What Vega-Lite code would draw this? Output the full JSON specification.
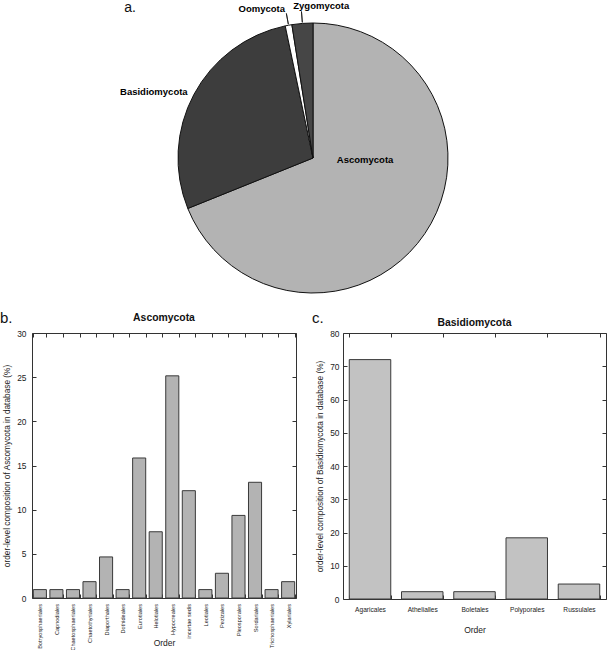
{
  "$schema": "https://vega.github.io/schema/vega-lite/v6.json",
  "padding": 0,
  "autosize": {"type": "pad"},
  "bounds": "flush",
  "spacing": 18,
  "datasets": {
    "phyla": [
      {"phylum": "Ascomycota", "percent": 68.9},
      {"phylum": "Basidiomycota", "percent": 27.8},
      {"phylum": "Oomycota", "percent": 0.8},
      {"phylum": "Zygomycota", "percent": 2.5}
    ],
    "asco": [
      {"order": "Botryosphaeriales", "percent": 0.95},
      {"order": "Capnodiales", "percent": 0.95},
      {"order": "Chaetosphaeriales", "percent": 0.95},
      {"order": "Chaetothyriales", "percent": 1.85},
      {"order": "Diaporthales", "percent": 4.65},
      {"order": "Dothideales", "percent": 0.95},
      {"order": "Eurotiales", "percent": 15.85},
      {"order": "Helotiales", "percent": 7.5},
      {"order": "Hypocreales", "percent": 25.15},
      {"order": "incertae sedis", "percent": 12.15},
      {"order": "Leotiales", "percent": 0.95},
      {"order": "Pezizales", "percent": 2.8},
      {"order": "Pleosporales", "percent": 9.35},
      {"order": "Sordariales", "percent": 13.1},
      {"order": "Trichosphaeriales", "percent": 0.95},
      {"order": "Xylariales", "percent": 1.85}
    ],
    "basidio": [
      {"order": "Agaricales", "percent": 72.0},
      {"order": "Athelialles", "percent": 2.2},
      {"order": "Boletales", "percent": 2.2},
      {"order": "Polyporales", "percent": 18.4},
      {"order": "Russulales", "percent": 4.5}
    ]
  },
  "vconcat": [
    {
      "width": 562,
      "height": 314,
      "data": {"name": "phyla"},
      "layer": [
        {
          "mark": {"type": "arc", "outerRadius": 135, "stroke": "#111111", "strokeWidth": 1},
          "encoding": {
            "theta": {"field": "percent", "type": "quantitative", "stack": true},
            "order": {"field": "phylum", "type": "ordinal", "sort": "ascending"},
            "color": {
              "field": "phylum", "type": "nominal",
              "scale": {"domain": ["Ascomycota", "Basidiomycota", "Oomycota", "Zygomycota"], "range": ["#b3b3b3", "#3d3d3d", "#ffffff", "#464646"]},
              "legend": null
            }
          }
        },
        {
          "mark": {"type": "arc", "radius": 147, "radius2": 136, "padAngle": 1, "stroke": "#111111", "strokeWidth": 0.8, "fillOpacity": 0},
          "encoding": {
            "theta": {"field": "percent", "type": "quantitative", "stack": true},
            "order": {"field": "phylum", "type": "ordinal", "sort": "ascending"},
            "detail": {"field": "phylum", "type": "nominal"},
            "strokeOpacity": {"condition": {"test": "datum.phylum === 'Oomycota' || datum.phylum === 'Zygomycota'", "value": 1}, "value": 0}
          }
        },
        {
          "mark": {"type": "text", "radius": 52, "dx": 9, "dy": -27, "fontSize": 9.5, "fontWeight": "bold", "align": "center", "baseline": "middle", "color": "#000000"},
          "encoding": {
            "theta": {"field": "percent", "type": "quantitative", "stack": true},
            "order": {"field": "phylum", "type": "ordinal", "sort": "ascending"},
            "detail": {"field": "phylum", "type": "nominal"},
            "text": {"condition": {"test": "datum.phylum === 'Ascomycota'", "field": "phylum"}, "value": ""}
          }
        },
        {
          "mark": {"type": "text", "radius": 160, "dx": -18, "dy": 9, "fontSize": 9.5, "fontWeight": "bold", "align": "center", "baseline": "middle", "color": "#000000"},
          "encoding": {
            "theta": {"field": "percent", "type": "quantitative", "stack": true},
            "order": {"field": "phylum", "type": "ordinal", "sort": "ascending"},
            "detail": {"field": "phylum", "type": "nominal"},
            "text": {"condition": {"test": "datum.phylum === 'Basidiomycota'", "field": "phylum"}, "value": ""}
          }
        },
        {
          "mark": {"type": "text", "radius": 150, "dx": -24, "dy": -1.5, "fontSize": 9.5, "fontWeight": "bold", "align": "center", "baseline": "middle", "color": "#000000"},
          "encoding": {
            "theta": {"field": "percent", "type": "quantitative", "stack": true},
            "order": {"field": "phylum", "type": "ordinal", "sort": "ascending"},
            "detail": {"field": "phylum", "type": "nominal"},
            "text": {"condition": {"test": "datum.phylum === 'Oomycota'", "field": "phylum"}, "value": ""}
          }
        },
        {
          "mark": {"type": "text", "radius": 150, "dx": 20, "dy": -2.5, "fontSize": 9.5, "fontWeight": "bold", "align": "center", "baseline": "middle", "color": "#000000"},
          "encoding": {
            "theta": {"field": "percent", "type": "quantitative", "stack": true},
            "order": {"field": "phylum", "type": "ordinal", "sort": "ascending"},
            "detail": {"field": "phylum", "type": "nominal"},
            "text": {"condition": {"test": "datum.phylum === 'Zygomycota'", "field": "phylum"}, "value": ""}
          }
        },
        {
          "data": {"values": [{"label": "a."}]},
          "mark": {"type": "text", "dx": -183, "dy": -146, "fontSize": 14, "align": "center", "baseline": "alphabetic", "color": "#111111"},
          "encoding": {"text": {"field": "label", "type": "nominal"}}
        }
      ]
    },
    {
      "bounds": "flush",
      "spacing": 47,
      "hconcat": [
        {
          "width": 264,
          "height": 265,
          "title": {"text": "Ascomycota", "offset": -12},
          "resolve": {"axis": {"x": "independent", "y": "independent"}},
          "layer": [
            {
              "data": {"name": "asco"},
              "mark": {"type": "bar", "fill": "#b3b3b3", "stroke": "#3a3a3a", "strokeWidth": 1},
              "encoding": {
                "x": {
                  "field": "order", "type": "nominal", "sort": null,
                  "scale": {"paddingInner": 0.21, "paddingOuter": 0.08},
                  "axis": {"orient": "bottom", "title": "Order", "titleFontSize": 8.5, "titleFontWeight": "normal", "titlePadding": -12, "labelAngle": -90, "labelFontSize": 5.6, "labelPadding": 9.5, "tickBand": "extent", "tickSize": -4}
                },
                "y": {
                  "field": "percent", "type": "quantitative",
                  "scale": {"domain": [0, 30], "nice": false},
                  "axis": {"orient": "left", "title": "order-level composition of Ascomycota in database (%)", "titleFontSize": 8.3, "titleFontWeight": "normal", "titlePadding": 5, "values": [0, 5, 10, 15, 20, 25, 30], "labelFontSize": 8.4, "labelPadding": 10, "tickSize": -4}
                }
              }
            },
            {
              "data": {"name": "asco"},
              "mark": {"type": "bar", "opacity": 0},
              "encoding": {
                "x": {"field": "order", "type": "nominal", "sort": null, "axis": {"orient": "top", "title": null, "labels": false, "tickBand": "extent", "tickSize": -4}},
                "y": {"field": "percent", "type": "quantitative", "axis": {"orient": "right", "title": null, "labels": false, "values": [0, 5, 10, 15, 20, 25, 30], "tickSize": -4}}
              }
            },
            {
              "data": {"values": [{"label": "b."}]},
              "mark": {"type": "text", "dx": -164, "dy": -147.5, "fontSize": 15, "align": "left", "baseline": "middle", "color": "#111111"},
              "encoding": {"text": {"field": "label", "type": "nominal"}}
            }
          ]
        },
        {
          "width": 263,
          "height": 266,
          "title": {"text": "Basidiomycota", "offset": -17},
          "resolve": {"axis": {"x": "independent", "y": "independent"}},
          "layer": [
            {
              "data": {"name": "basidio"},
              "mark": {"type": "bar", "fill": "#c2c2c2", "stroke": "#3a3a3a", "strokeWidth": 1},
              "encoding": {
                "x": {
                  "field": "order", "type": "nominal", "sort": null,
                  "scale": {"paddingInner": 0.206, "paddingOuter": 0.12},
                  "axis": {"orient": "bottom", "title": "Order", "titleFontSize": 8.5, "titleFontWeight": "normal", "titlePadding": 12, "labelAngle": 0, "labelFontSize": 6.6, "labelPadding": 11.5, "tickBand": "extent", "tickSize": -4}
                },
                "y": {
                  "field": "percent", "type": "quantitative",
                  "scale": {"domain": [0, 80], "nice": false},
                  "axis": {"orient": "left", "title": "order-level composition of Basidiomycota in database (%)", "titleFontSize": 8.3, "titleFontWeight": "normal", "titlePadding": 5, "values": [0, 10, 20, 30, 40, 50, 60, 70, 80], "labelFontSize": 8.4, "labelPadding": 8, "tickSize": -4}
                }
              }
            },
            {
              "data": {"name": "basidio"},
              "mark": {"type": "bar", "opacity": 0},
              "encoding": {
                "x": {"field": "order", "type": "nominal", "sort": null, "axis": {"orient": "top", "title": null, "labels": false, "tickBand": "extent", "tickSize": -4}},
                "y": {"field": "percent", "type": "quantitative", "axis": {"orient": "right", "title": null, "labels": false, "values": [0, 10, 20, 30, 40, 50, 60, 70, 80], "tickSize": -4}}
              }
            },
            {
              "data": {"values": [{"label": "c."}]},
              "mark": {"type": "text", "dx": -162.5, "dy": -148, "fontSize": 15, "align": "left", "baseline": "middle", "color": "#111111"},
              "encoding": {"text": {"field": "label", "type": "nominal"}}
            }
          ]
        }
      ]
    }
  ],
  "config": {
    "font": "Liberation Sans",
    "view": {"stroke": null},
    "axis": {"domainColor": "#333333", "tickColor": "#333333", "labelColor": "#222222", "titleColor": "#222222", "grid": false, "labelFont": "Liberation Sans", "titleFont": "Liberation Sans"},
    "title": {"font": "Liberation Sans", "fontWeight": "bold", "fontSize": 10.4, "color": "#111111"}
  }
}
